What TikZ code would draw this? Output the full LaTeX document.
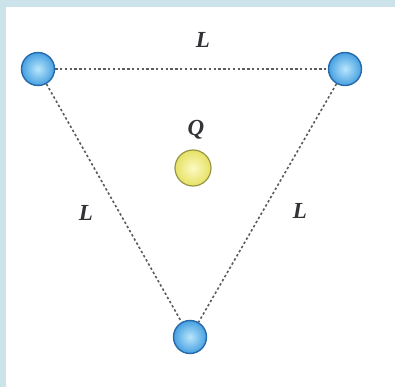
\documentclass[tikz,border=0pt]{standalone}
\usepackage{fontspec}
\setmainfont{Liberation Serif}
\begin{document}
\begin{tikzpicture}[x=1pt,y=-1pt,
  bluball/.style={circle,minimum size=33pt,inner sep=0pt,draw=ballrim,line width=1.4pt,inner color=ballin,outer color=ballout},
  yelball/.style={circle,minimum size=36pt,inner sep=0pt,draw=yelrim,line width=1.2pt,inner color=yelin,outer color=yelout},
  dotline/.style={draw=dotgray,line width=1.6pt,dash pattern=on 2.4pt off 2.4pt},
  lbl/.style={font=\fontsize{23}{23}\selectfont\bfseries\itshape,text=txtgray,inner sep=0pt}]
\definecolor{bgblue}{RGB}{205,227,236}
\definecolor{ballrim}{RGB}{40,105,170}
\definecolor{ballin}{RGB}{185,230,252}
\definecolor{ballout}{RGB}{70,160,225}
\definecolor{yelrim}{RGB}{150,150,70}
\definecolor{yelin}{RGB}{252,250,195}
\definecolor{yelout}{RGB}{230,225,100}
\definecolor{dotgray}{RGB}{90,90,95}
\definecolor{txtgray}{RGB}{50,50,55}
\fill[bgblue] (0,0) rectangle (395,387);
\fill[white] (6,7) rectangle (395,387);
\useasboundingbox (0,0) rectangle (395,387);
\node[bluball] (a) at (38,69) {};
\node[bluball] (b) at (345,69) {};
\node[bluball] (c) at (190,337) {};
\node[yelball] (q) at (193,168) {};
\path[dotline] (a) -- (b);
\path[dotline] (a) -- (c);
\path[dotline] (b) -- (c);
\node[lbl] (lt) at (203,40) {L};
\node[lbl] (ll) at (86,213) {L};
\node[lbl] (lr) at (300,211) {L};
\node[lbl] (lq) at (196,130) {Q};
\end{tikzpicture}
\end{document}
